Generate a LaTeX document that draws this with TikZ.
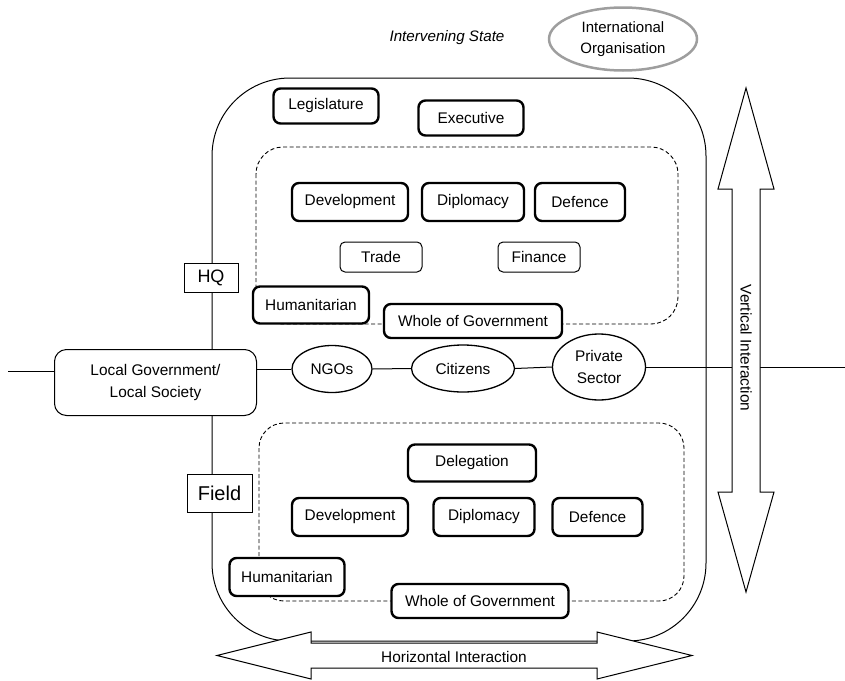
\documentclass[tikz,border=0pt]{standalone}
\usepackage{fontspec}
\setmainfont{Liberation Sans}
\usetikzlibrary{shapes.geometric}
\begin{document}
\begin{tikzpicture}[x=1pt,y=-1pt,
  every node/.style={font=\fontsize{15.4}{22}\selectfont, inner sep=0pt},
  thickbox/.style={draw, line width=2.4pt, rounded corners=7pt, fill=white, minimum height=38pt},
  thinbox/.style={draw, line width=1pt, rounded corners=5pt, fill=white, minimum height=30pt, minimum width=82pt},
  oval/.style={draw, ellipse, line width=1.3pt, fill=white},
  plainbox/.style={draw, line width=0.8pt, fill=white},
  dashbox/.style={draw=black, dash pattern=on 4pt off 2.5pt, line width=0.9pt},
  bigarrow/.style={draw, line width=1pt, fill=white},
  link/.style={draw, line width=1pt}
]
\useasboundingbox (0,0) rectangle (845,680);

% intervening state frame
\draw[line width=1pt, rounded corners=78pt] (212,78) rectangle (706,641);
\draw[dashbox, rounded corners=27pt] (256,147) rectangle (678,324);
\draw[dashbox, rounded corners=25pt] (259,423) rectangle (684,601);

% top labels
\node[font=\itshape\fontsize{15.2}{18}\selectfont] (is) at (447,38) {Intervening State};
\node[ellipse, draw=black!38, line width=2.5pt, minimum width=148pt, minimum height=63pt, align=center, font=\fontsize{15}{21}\selectfont] (io) at (623,39) {International\\Organisation};

% HQ level
\node[thickbox, minimum width=105pt, minimum height=35pt] (leg) at (326,106) {Legislature};
\node[thickbox, minimum width=105pt, minimum height=35pt] (exe) at (471,118) {Executive};
\node[thickbox, minimum width=116pt] (dev1) at (350,202) {Development};
\node[thickbox, minimum width=102pt] (dip1) at (473,202) {Diplomacy};
\node[thickbox, minimum width=90pt] (def1) at (580,202) {Defence};
\node[thinbox] (trade) at (381,257) {Trade};
\node[thinbox] (fin) at (539,257) {Finance};
\node[thickbox, minimum width=116pt, minimum height=37pt] (hum1) at (311,305) {Humanitarian};
\node[thickbox, minimum width=178pt, minimum height=34pt] (wog1) at (473,321) {Whole of Government};

% middle row
\node[draw, line width=1pt, rounded corners=12pt, fill=white, minimum width=202pt, minimum height=66pt, align=center] (lg) at (155.5,382.5) {Local Government/\\Local Society};
\node[oval, minimum width=80pt, minimum height=47pt] (ngo) at (332,369) {NGOs};
\node[oval, minimum width=103pt, minimum height=47pt] (cit) at (463,368.5) {Citizens};
\node[oval, minimum width=93pt, minimum height=66pt, align=center] (priv) at (599,367) {Private\\Sector};

% level labels
\node[plainbox, minimum width=54pt, minimum height=29pt, font=\fontsize{18}{20}\selectfont] (hq) at (211,278) {HQ};
\node[plainbox, minimum width=65pt, minimum height=38pt, font=\fontsize{20}{22}\selectfont] (field) at (219.5,493) {Field};

% field level
\node[thickbox, minimum width=128pt, minimum height=37pt] (del) at (472,463) {Delegation};
\node[thickbox, minimum width=116pt] (dev2) at (350,517) {Development};
\node[thickbox, minimum width=101pt] (dip2) at (484,517) {Diplomacy};
\node[thickbox, minimum width=90pt] (def2) at (597.5,517) {Defence};
\node[thickbox, minimum width=115pt] (hum2) at (287,577) {Humanitarian};
\node[thickbox, minimum width=177pt, minimum height=34pt] (wog2) at (480,601) {Whole of Government};

% connectors
\coordinate (lend) at (8,371);
\coordinate (rend) at (845,367);
\draw[link] (lend) -- (lend -| lg.west);
\draw[link] (ngo.west -| lg.east) -- (ngo.west);
\draw[link] (ngo.east) -- (cit.west);
\draw[link] (cit.east) -- (priv.west);
\draw[link] (priv.east) -- (rend);

% interaction arrows
\draw[bigarrow] (746,88) -- (774,189) -- (760,189) -- (760,492) -- (774,492) -- (746,592)
  -- (718,492) -- (732,492) -- (732,189) -- (718,189) -- cycle;
\node[rotate=-90] (vi) at (746,348) {Vertical Interaction};
\draw[bigarrow] (217,655.5) -- (311,632) -- (311,643) -- (597,643) -- (597,632) -- (692,655.5)
  -- (597,679) -- (597,668) -- (311,668) -- (311,679) -- cycle;
\node (hi) at (454,657) {Horizontal Interaction};
\end{tikzpicture}
\end{document}
